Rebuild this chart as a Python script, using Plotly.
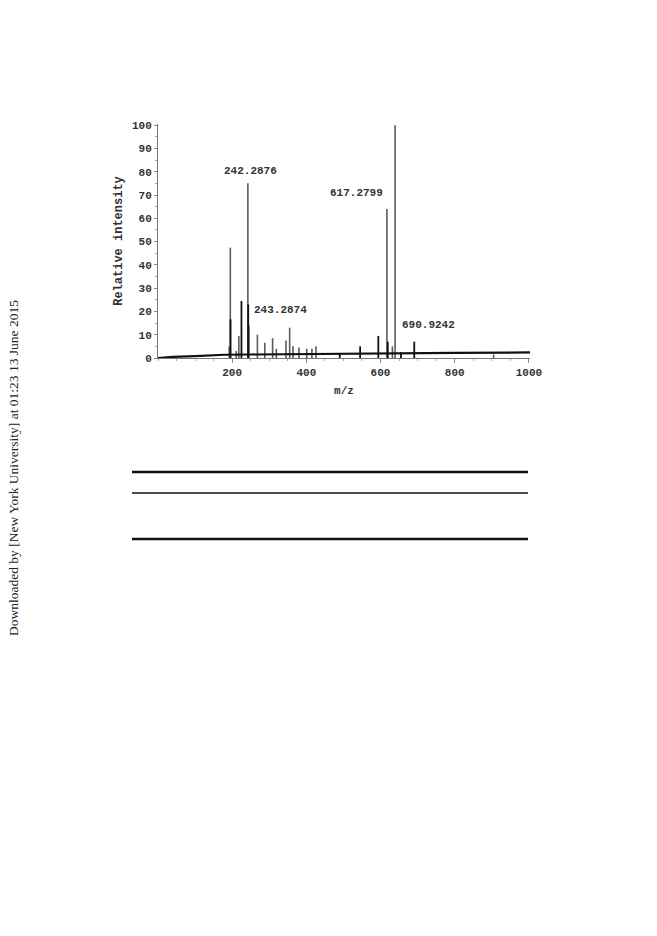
import plotly.graph_objects as go

# ---- data ----
peak_mz = [192, 195, 195.5, 211, 218, 225, 242.2876, 243.2874, 244.3, 268, 288, 309, 319,
           345, 355, 364, 380, 401, 415, 426, 490, 545, 594, 617.2799, 619.5, 632, 639.3009,
           655, 690.9242, 905]
peak_int = [5, 47.4, 16.6, 3, 9.4, 24.5, 75, 23, 14, 10, 6.5, 8.5, 4,
            7.5, 13, 5, 4.5, 4, 4, 5, 2, 5, 9.5, 64, 7, 5, 100,
            2.5, 7, 1.5]
peak_dark = [False, False, True, False, False, True, False, True, True, False, False, False, False,
             False, False, False, False, False, False, False, True, True, True, False, True, False, False,
             True, True, False]

base_mz = [0, 40, 100, 180, 250, 400, 600, 800, 1003]
base_int = [0, 0.5, 0.8, 1.4, 1.5, 1.6, 1.9, 2.2, 2.4]

labels = ["242.2876", "243.2874", "617.2799", "639.3009", "690.9242"]
label_mz = [242.2876, 243.2874, 617.2799, 639.3009, 690.9242]
label_y = [80.3, 20.5, 71, 105.5, 14]
label_anchor = ["center", "left", "right", "center", "left"]
label_shift = [3, 4, -2, 0, -14]

x_ticks = [200, 400, 600, 800, 1000]
y_ticks = [0, 10, 20, 30, 40, 50, 60, 70, 80, 90, 100]

fig = go.Figure()

def sticks(sel):
    xs, ys = [], []
    for m, h, d in zip(peak_mz, peak_int, peak_dark):
        if d == sel:
            xs += [m, m, None]
            ys += [0, h, None]
    return xs, ys

xg, yg = sticks(False)
fig.add_trace(go.Scatter(x=xg, y=yg, mode="lines", line=dict(color="#5a5a5a", width=1.6),
                         showlegend=False, hoverinfo="skip"))
xd, yd = sticks(True)
fig.add_trace(go.Scatter(x=xd, y=yd, mode="lines", line=dict(color="#111111", width=1.8),
                         showlegend=False, hoverinfo="skip"))
fig.add_trace(go.Scatter(x=base_mz, y=base_int, mode="lines", line=dict(color="#111111", width=2.2),
                         showlegend=False, hoverinfo="skip"))

mono = "Liberation Mono"
for t, m, yv, a, s in zip(labels, label_mz, label_y, label_anchor, label_shift):
    fig.add_annotation(x=m, y=yv, xref="x", yref="y", text=t, showarrow=False,
                       xanchor=a, xshift=s, yanchor="middle",
                       font=dict(family=mono, size=11, color="#333333", weight="bold"))

fig.update_xaxes(range=[0, 1003], tickvals=x_ticks, ticktext=[str(v) for v in x_ticks],
                 showgrid=False, zeroline=False, showline=True, linecolor="#777777", linewidth=1,
                 ticks="outside", ticklen=4, tickcolor="#888888",
                 minor=dict(dtick=50, ticks="outside", ticklen=2, tickcolor="#aaaaaa"),
                 tickfont=dict(family=mono, size=11, color="#333333", weight="bold"),
                 title=dict(text="m/z", font=dict(family=mono, size=11, color="#333333", weight="bold"),
                            standoff=8))
fig.update_yaxes(range=[0, 100.5], tickvals=y_ticks, ticktext=[str(v) for v in y_ticks],
                 showgrid=False, zeroline=False, showline=True, linecolor="#777777", linewidth=1,
                 ticks="outside", ticklen=3, tickcolor="#888888",
                 minor=dict(dtick=5, ticks="outside", ticklen=2, tickcolor="#aaaaaa"),
                 tickfont=dict(family=mono, size=11, color="#333333", weight="bold"),
                 title=dict(text="Relative intensity",
                            font=dict(family=mono, size=12, color="#333333", weight="bold"),
                            standoff=6))

# page-pixel placement helpers (the page adds an 8 px offset)
L, R, T, B = 150, 135, 116, 586
PW, PH = 657 - L - R, 936 - T - B

def px(xp):
    return (xp - 8 - L) / PW

def py(yp):
    return (936 - (yp - 8) - B) / PH

# horizontal table rules below the figure
for yy, w in [(472, 2.6), (493, 1.6), (539, 2.6)]:
    fig.add_shape(type="line", xref="paper", yref="paper",
                  x0=px(132), x1=px(528), y0=py(yy), y1=py(yy),
                  line=dict(color="#111111", width=w))

fig.add_annotation(text="Downloaded by [New York University] at 01:23 13 June 2015",
                   xref="paper", yref="paper", x=px(13), y=py(468),
                   showarrow=False, textangle=-90, xanchor="center", yanchor="middle",
                   font=dict(family="Liberation Serif", size=13.5, color="#222222"))

fig.update_layout(width=657, height=936, autosize=False,
                  margin=dict(l=L, r=R, t=T, b=B, pad=0),
                  plot_bgcolor="white", paper_bgcolor="white")

fig.write_html("out.html")
